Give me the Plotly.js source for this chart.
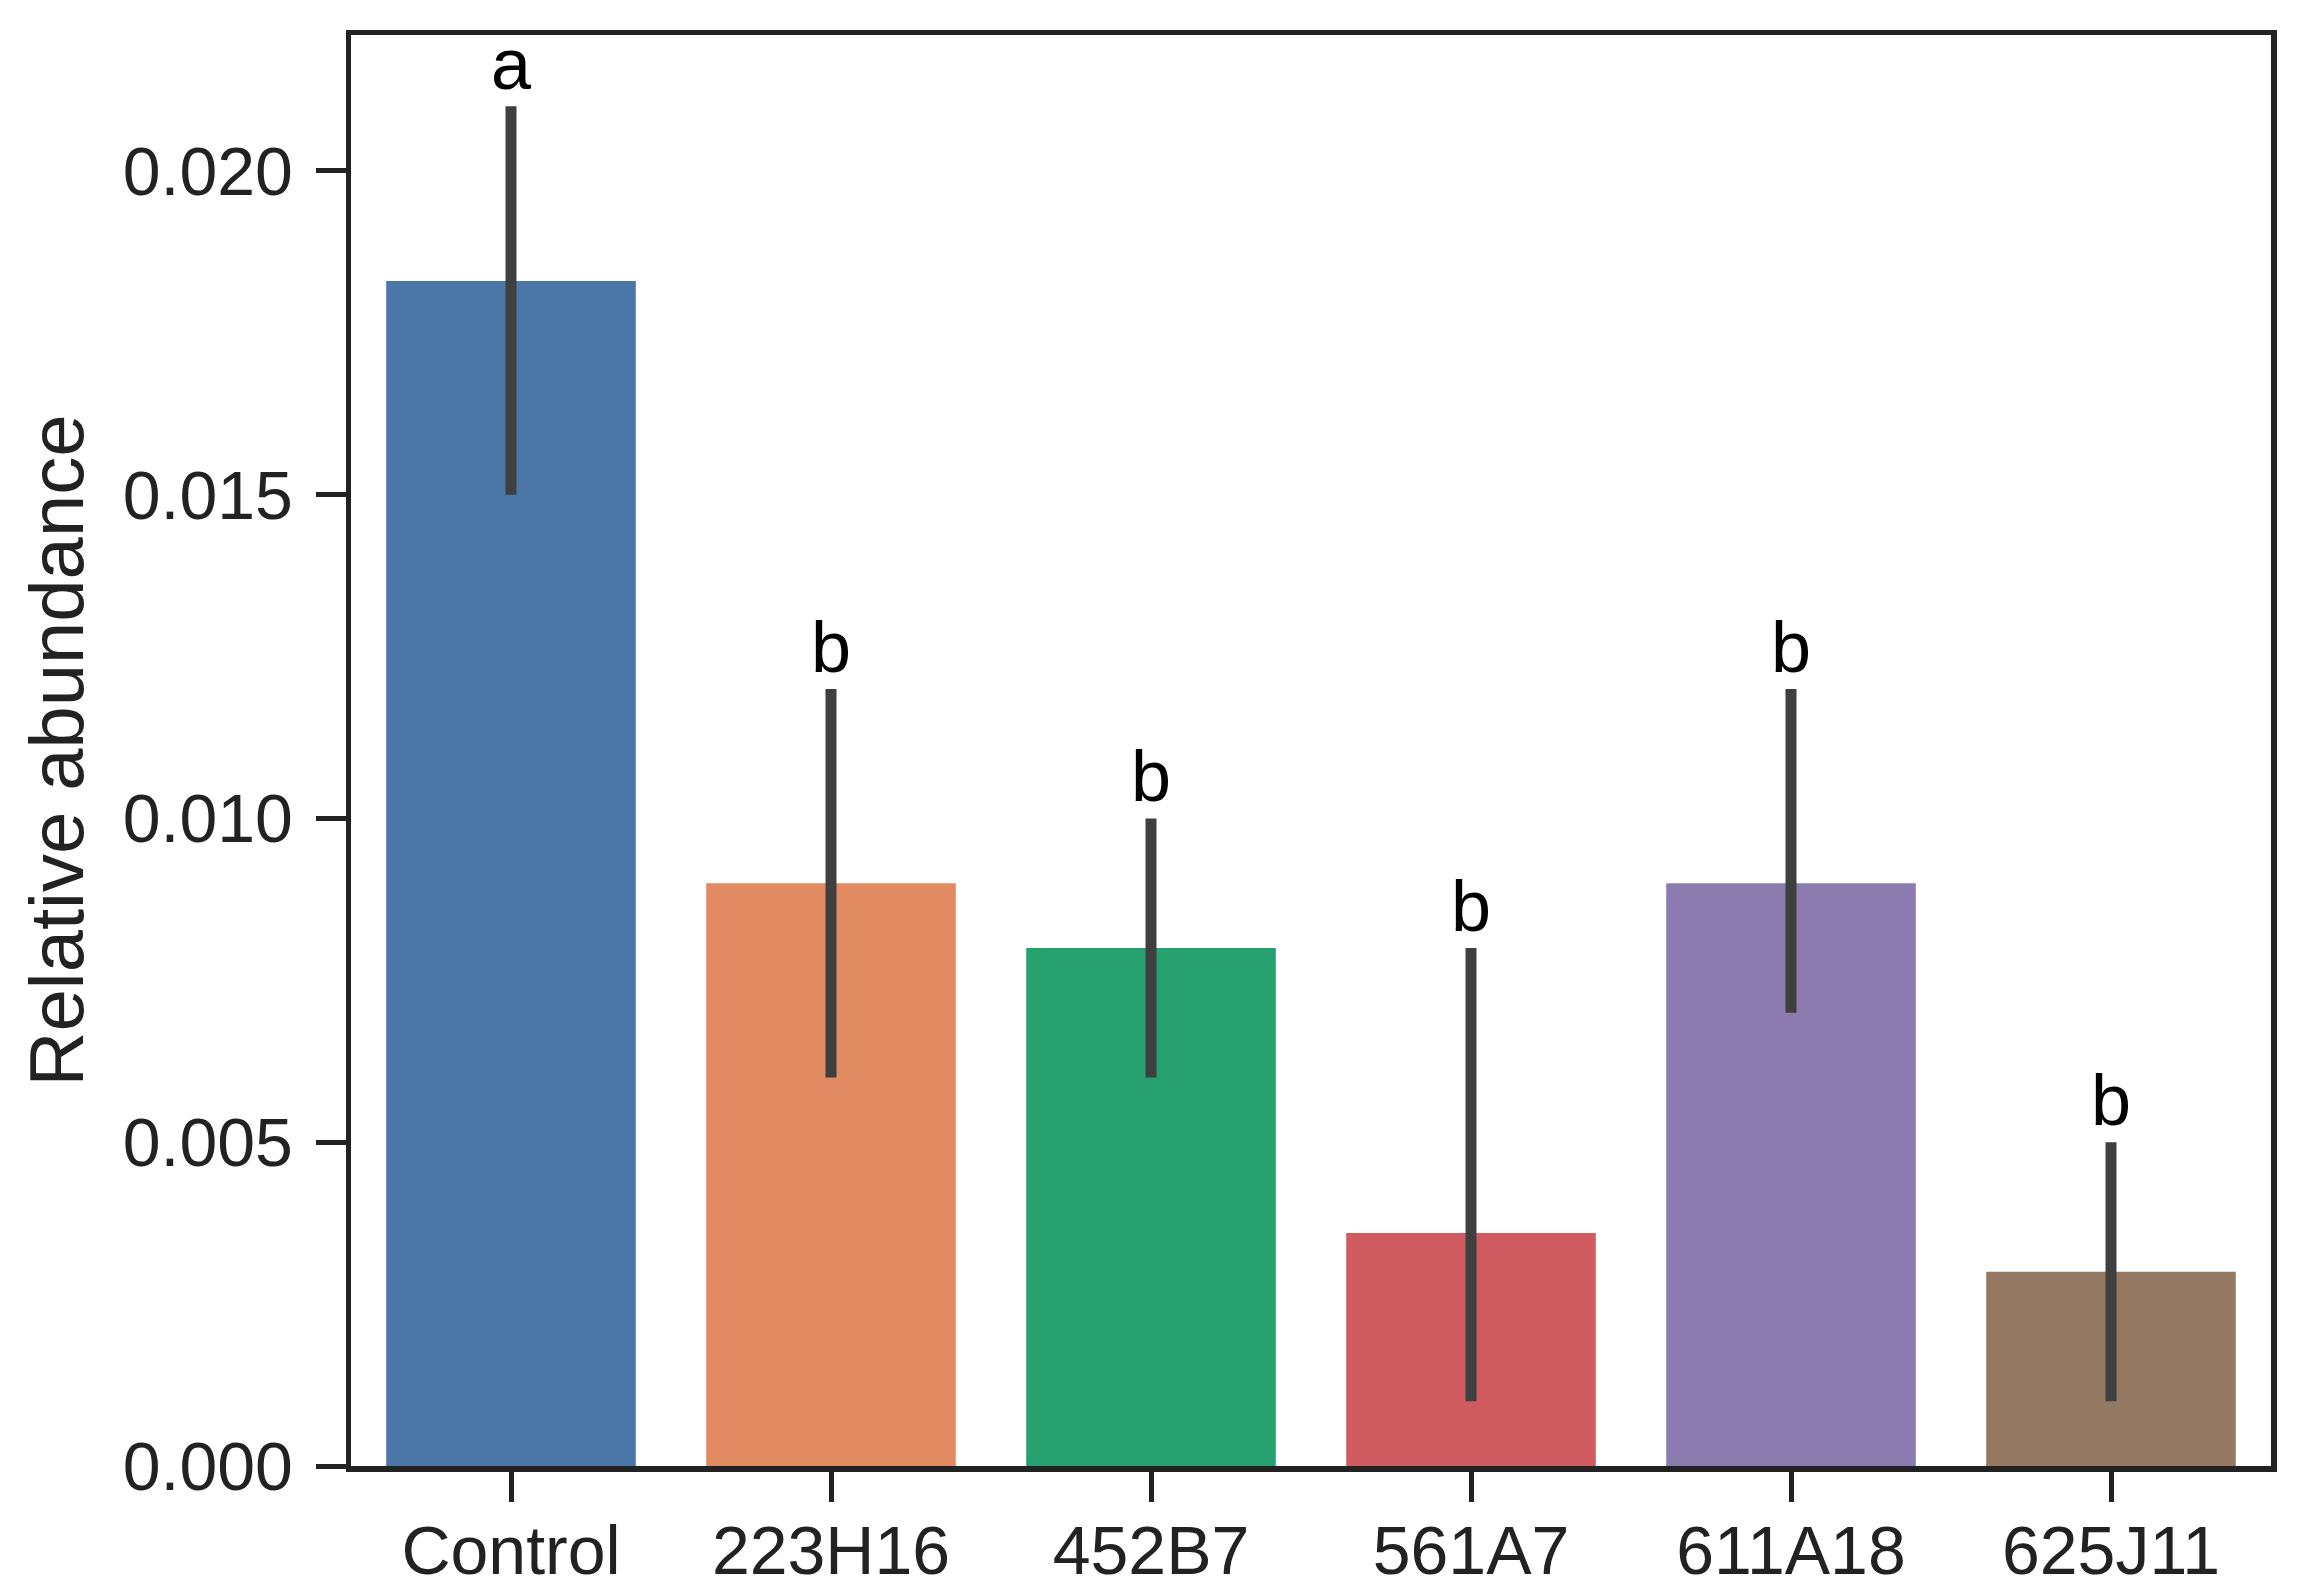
<!DOCTYPE html>
<html>
<head>
<meta charset="utf-8">
<script src="https://cdn.plot.ly/plotly-3.0.1.min.js"></script>
<style>html,body{margin:0;padding:0;background:#fff;}#chart{width:2301px;height:1596px;}</style>
</head>
<body>
<div id="chart"></div>
<script>
const categories = ['Control', '223H16', '452B7', '561A7', '611A18', '625J11'];
const means = [0.0183, 0.0090, 0.0080, 0.0036, 0.0090, 0.0030];
const upper = [0.0210, 0.0120, 0.0100, 0.0080, 0.0120, 0.0050];
const lower = [0.0150, 0.0060, 0.0060, 0.0010, 0.0070, 0.0010];
const letters = ['a', 'b', 'b', 'b', 'b', 'b'];
const colors = ['#4a76a8', '#e28a62', '#25a06e', '#d05c61', '#8c7bae', '#957962'];
const yTicks = [0, 0.005, 0.010, 0.015, 0.020];
const yTickText = ['0.000', '0.005', '0.010', '0.015', '0.020'];

const FONT = 'Liberation Sans, Arial, sans-serif';
const INK = '#222222';

const trace = {
  type: 'bar',
  x: categories,
  y: means,
  width: 0.78,
  marker: {color: colors, line: {width: 0}},
  error_y: {
    type: 'data',
    symmetric: false,
    array: upper.map((u, i) => u - means[i]),
    arrayminus: lower.map((l, i) => means[i] - l),
    color: '#3f3f3f',
    thickness: 11,
    width: 0
  },
  hoverinfo: 'skip'
};

const annotations = categories.map((c, i) => ({
  x: c,
  y: upper[i],
  xref: 'x',
  yref: 'y',
  text: letters[i],
  showarrow: false,
  xanchor: 'center',
  yanchor: 'bottom',
  font: {family: FONT, size: 72, color: '#000000'}
}));

const layout = {
  width: 2301,
  height: 1596,
  margin: {l: 351, r: 30, t: 35, b: 130, pad: 0},
  paper_bgcolor: '#ffffff',
  plot_bgcolor: '#ffffff',
  showlegend: false,
  font: {family: FONT, color: INK},
  xaxis: {
    type: 'category',
    range: [-0.5, 5.5],
    showline: true,
    mirror: true,
    linewidth: 5.5,
    linecolor: INK,
    showgrid: false,
    zeroline: false,
    ticks: 'outside',
    ticklen: 30,
    tickwidth: 5,
    tickcolor: INK,
    ticklabelstandoff: -9,
    tickfont: {family: FONT, size: 68, color: INK}
  },
  yaxis: {
    range: [0, 0.0221],
    tickvals: yTicks,
    ticktext: yTickText,
    showline: true,
    mirror: true,
    linewidth: 5.5,
    linecolor: INK,
    showgrid: false,
    zeroline: false,
    ticks: 'outside',
    ticklen: 30,
    tickwidth: 5,
    tickcolor: INK,
    ticklabelstandoff: 9,
    tickfont: {family: FONT, size: 68, color: INK},
    title: {text: 'Relative abundance', font: {family: FONT, size: 76, color: INK}, standoff: 16}
  },
  annotations: annotations
};

Plotly.newPlot('chart', [trace], layout, {staticPlot: true, displayModeBar: false});
</script>
</body>
</html>
